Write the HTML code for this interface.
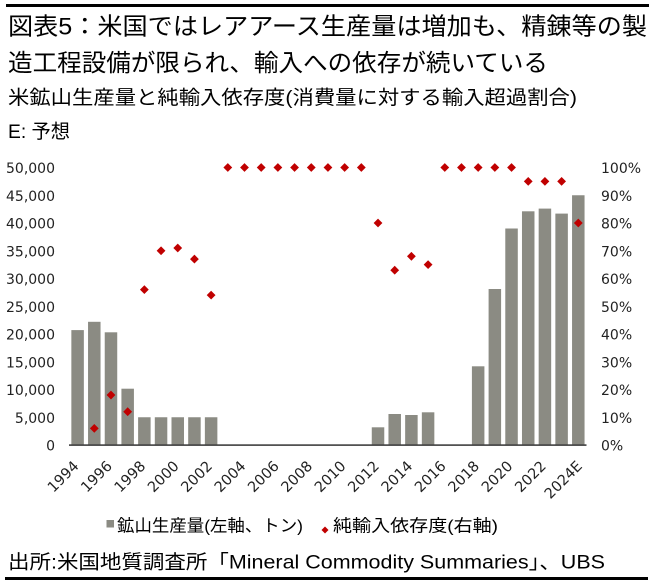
<!DOCTYPE html>
<html>
<head>
<meta charset="utf-8">
<style>
  html,body{margin:0;padding:0;background:#fff;}
  body{width:661px;height:585px;overflow:hidden;}
  svg{display:block;}
  .cjk{font-family:"Liberation Sans","Noto Sans CJK JP",sans-serif;fill:#000;}
  .tick{font-family:"DejaVu Sans","Liberation Sans",sans-serif;fill:#222;font-size:14px;}
</style>
</head>
<body>
<svg width="661" height="585" viewBox="0 0 661 585" xmlns="http://www.w3.org/2000/svg">
  <defs>
    <polygon id="d" points="0,-4.4 4.4,0 0,4.4 -4.4,0" fill="#c00000"/>
  </defs>
  <!-- top / bottom rules -->
  <rect x="6" y="4" width="643" height="3" fill="#000"/>
  <rect x="5" y="577" width="643" height="3" fill="#000"/>

  <!-- titles -->
  <text class="cjk" x="8" y="34.5" font-size="24" textLength="639" lengthAdjust="spacingAndGlyphs">図表5：米国ではレアアース生産量は増加も、精錬等の製</text>
  <text class="cjk" x="8" y="71" font-size="24" textLength="540" lengthAdjust="spacingAndGlyphs">造工程設備が限られ、輸入への依存が続いている</text>
  <text class="cjk" x="8" y="104" font-size="19.5" textLength="569" lengthAdjust="spacingAndGlyphs">米鉱山生産量と純輸入依存度(消費量に対する輸入超過割合)</text>
  <text class="cjk" x="8" y="138" font-size="19.5" textLength="62" lengthAdjust="spacingAndGlyphs">E: 予想</text>

  <!-- left axis labels -->
  <g class="tick" text-anchor="end">
    <text x="55" y="173">50,000</text>
    <text x="55" y="200.75">45,000</text>
    <text x="55" y="228.5">40,000</text>
    <text x="55" y="256.25">35,000</text>
    <text x="55" y="284">30,000</text>
    <text x="55" y="311.75">25,000</text>
    <text x="55" y="339.5">20,000</text>
    <text x="55" y="367.25">15,000</text>
    <text x="55" y="395">10,000</text>
    <text x="55" y="422.75">5,000</text>
    <text x="55" y="450.5">0</text>
  </g>
  <!-- right axis labels -->
  <g class="tick" text-anchor="start">
    <text x="601" y="173">100%</text>
    <text x="601" y="200.75">90%</text>
    <text x="601" y="228.5">80%</text>
    <text x="601" y="256.25">70%</text>
    <text x="601" y="284">60%</text>
    <text x="601" y="311.75">50%</text>
    <text x="601" y="339.5">40%</text>
    <text x="601" y="367.25">30%</text>
    <text x="601" y="395">20%</text>
    <text x="601" y="422.75">10%</text>
    <text x="601" y="450.5">0%</text>
  </g>

  <!-- bars -->
  <g fill="#8b8b83">
    <rect x="71.35" y="330.1" width="12.5" height="114.9"/>
    <rect x="88.04" y="321.8" width="12.5" height="123.2"/>
    <rect x="104.73" y="332.3" width="12.5" height="112.7"/>
    <rect x="121.42" y="388.7" width="12.5" height="56.3"/>
    <rect x="138.11" y="417.25" width="12.5" height="27.75"/>
    <rect x="154.8" y="417.25" width="12.5" height="27.75"/>
    <rect x="171.49" y="417.25" width="12.5" height="27.75"/>
    <rect x="188.18" y="417.25" width="12.5" height="27.75"/>
    <rect x="204.87" y="417.25" width="12.5" height="27.75"/>
    <rect x="371.77" y="427.3" width="12.5" height="17.7"/>
    <rect x="388.46" y="414.0" width="12.5" height="31.0"/>
    <rect x="405.15" y="415.0" width="12.5" height="30.0"/>
    <rect x="421.84" y="412.3" width="12.5" height="32.7"/>
    <rect x="471.91" y="366.3" width="12.5" height="78.7"/>
    <rect x="488.6" y="289.0" width="12.5" height="156.0"/>
    <rect x="505.29" y="228.5" width="12.5" height="216.5"/>
    <rect x="521.98" y="211.3" width="12.5" height="233.7"/>
    <rect x="538.67" y="208.6" width="12.5" height="236.4"/>
    <rect x="555.36" y="213.6" width="12.5" height="231.4"/>
    <rect x="572.05" y="195.25" width="12.5" height="249.75"/>
  </g>

  <!-- x axis line -->
  <rect x="69" y="444.3" width="517.5" height="1.6" fill="#404040"/>

  <!-- diamonds -->
  <use href="#d" x="94.29" y="428.35"/>
  <use href="#d" x="110.98" y="395.05"/>
  <use href="#d" x="127.67" y="411.7"/>
  <use href="#d" x="144.36" y="289.6"/>
  <use href="#d" x="161.05" y="250.75"/>
  <use href="#d" x="177.74" y="247.98"/>
  <use href="#d" x="194.43" y="259.08"/>
  <use href="#d" x="211.12" y="295.15"/>
  <use href="#d" x="227.81" y="167.5"/>
  <use href="#d" x="244.5" y="167.5"/>
  <use href="#d" x="261.19" y="167.5"/>
  <use href="#d" x="277.88" y="167.5"/>
  <use href="#d" x="294.57" y="167.5"/>
  <use href="#d" x="311.26" y="167.5"/>
  <use href="#d" x="327.95" y="167.5"/>
  <use href="#d" x="344.64" y="167.5"/>
  <use href="#d" x="361.33" y="167.5"/>
  <use href="#d" x="378.02" y="223"/>
  <use href="#d" x="394.71" y="270.2"/>
  <use href="#d" x="411.4" y="256.3"/>
  <use href="#d" x="428.09" y="264.6"/>
  <use href="#d" x="444.78" y="167.5"/>
  <use href="#d" x="461.47" y="167.5"/>
  <use href="#d" x="478.16" y="167.5"/>
  <use href="#d" x="494.85" y="167.5"/>
  <use href="#d" x="511.54" y="167.5"/>
  <use href="#d" x="528.23" y="181.4"/>
  <use href="#d" x="544.92" y="181.4"/>
  <use href="#d" x="561.61" y="181.4"/>
  <use href="#d" x="578.3" y="223"/>

  <!-- x axis labels -->
  <g class="tick" text-anchor="end" style="font-size:14.5px">
    <text transform="translate(79.6,467) rotate(-45)">1994</text>
    <text transform="translate(112.98,467) rotate(-45)">1996</text>
    <text transform="translate(146.36,467) rotate(-45)">1998</text>
    <text transform="translate(179.74,467) rotate(-45)">2000</text>
    <text transform="translate(213.12,467) rotate(-45)">2002</text>
    <text transform="translate(246.5,467) rotate(-45)">2004</text>
    <text transform="translate(279.88,467) rotate(-45)">2006</text>
    <text transform="translate(313.26,467) rotate(-45)">2008</text>
    <text transform="translate(346.64,467) rotate(-45)">2010</text>
    <text transform="translate(380.02,467) rotate(-45)">2012</text>
    <text transform="translate(413.4,467) rotate(-45)">2014</text>
    <text transform="translate(446.78,467) rotate(-45)">2016</text>
    <text transform="translate(480.16,467) rotate(-45)">2018</text>
    <text transform="translate(513.54,467) rotate(-45)">2020</text>
    <text transform="translate(546.92,467) rotate(-45)">2022</text>
    <text transform="translate(583,467) rotate(-45)">2024E</text>
  </g>

  <!-- legend -->
  <rect x="106.5" y="520" width="7.5" height="7.5" fill="#8b8b83"/>
  <text class="cjk" x="117" y="531.5" font-size="17" textLength="186" lengthAdjust="spacingAndGlyphs">鉱山生産量(左軸、トン)</text>
  <polygon points="325,526.5 328.5,530 325,533.5 321.5,530" fill="#c00000"/>
  <text class="cjk" x="333" y="531.5" font-size="17" textLength="165" lengthAdjust="spacingAndGlyphs">純輸入依存度(右軸)</text>

  <!-- source -->
  <text class="cjk" x="8" y="568.5" font-size="19.5" textLength="597" lengthAdjust="spacingAndGlyphs">出所:米国地質調査所「Mineral Commodity Summaries」、UBS</text>
</svg>
</body>
</html>
